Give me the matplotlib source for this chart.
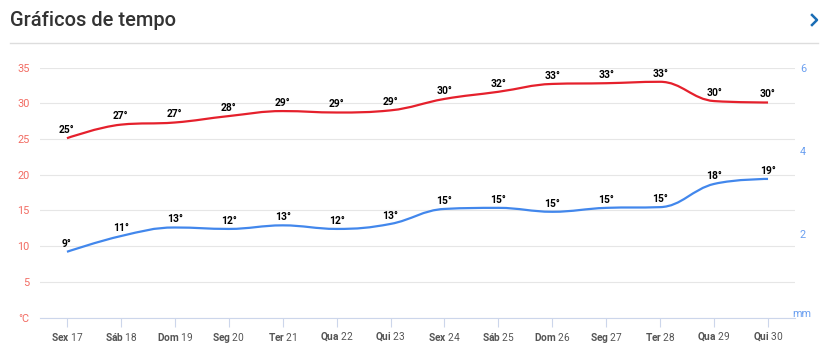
import matplotlib
matplotlib.use('Agg')
import matplotlib.pyplot as plt
from matplotlib.path import Path
from matplotlib.patches import PathPatch
from matplotlib.lines import Line2D

# data
days = ['Sex', 'Sáb', 'Dom', 'Seg', 'Ter', 'Qua', 'Qui',
        'Sex', 'Sáb', 'Dom', 'Seg', 'Ter', 'Qua', 'Qui']
dates = [17, 18, 19, 20, 21, 22, 23, 24, 25, 26, 27, 28, 29, 30]
temp_max = [25.1, 27.0, 27.3, 28.2, 28.9, 28.7, 29.0, 30.6, 31.6, 32.7, 32.8, 33.0, 30.3, 30.1]
temp_max_labels = [25, 27, 27, 28, 29, 29, 29, 30, 32, 33, 33, 33, 30, 30]
temp_min = [9.2, 11.4, 12.6, 12.4, 12.9, 12.4, 13.1, 15.2, 15.35, 14.8, 15.35, 15.45, 18.7, 19.4]
temp_min_labels = [9, 11, 13, 12, 13, 12, 13, 15, 15, 15, 15, 15, 18, 19]
temp_ticks = [0, 5, 10, 15, 20, 25, 30, 35]
rain_ticks = [2, 4, 6]

W, H = 825, 349

plt.rcParams['font.family'] = ['Roboto', 'DejaVu Sans']
plt.rcParams['mathtext.fontset'] = 'custom'
plt.rcParams['mathtext.rm'] = 'Roboto'
plt.rcParams['mathtext.bf'] = 'Roboto:bold'


def spline_path(xs, ys, smoothing=1.5):
    # highcharts-like spline: bezier control points around each point
    denom = smoothing + 1
    n = len(xs)
    left = [(xs[i], ys[i]) for i in range(n)]
    right = [(xs[i], ys[i]) for i in range(n)]
    for i in range(1, n - 1):
        lx, ly = xs[i - 1], ys[i - 1]
        px, py = xs[i], ys[i]
        nx, ny = xs[i + 1], ys[i + 1]
        lcx = (smoothing * px + lx) / denom
        lcy = (smoothing * py + ly) / denom
        rcx = (smoothing * px + nx) / denom
        rcy = (smoothing * py + ny) / denom
        corr = (rcy - lcy) * (rcx - px) / (rcx - lcx) + py - rcy
        lcy += corr
        rcy += corr
        if lcy > ly and lcy > py:
            lcy = max(ly, py)
            rcy = 2 * py - lcy
        elif lcy < ly and lcy < py:
            lcy = min(ly, py)
            rcy = 2 * py - lcy
        if rcy > ny and rcy > py:
            rcy = max(ny, py)
            lcy = 2 * py - rcy
        elif rcy < ny and rcy < py:
            rcy = min(ny, py)
            lcy = 2 * py - rcy
        left[i] = (lcx, lcy)
        right[i] = (rcx, rcy)
    verts = [(xs[0], ys[0])]
    codes = [Path.MOVETO]
    for i in range(1, n):
        verts += [right[i - 1], left[i], (xs[i], ys[i])]
        codes += [Path.CURVE4] * 3
    return Path(verts, codes)


fig = plt.figure(figsize=(W / 100, H / 100), dpi=100)
ax = fig.add_axes([40 / W, (H - 317.5) / H, 755 / W, 250 / H])

x = list(range(len(dates)))

for vals, labels, color in [(temp_max, temp_max_labels, '#e5202c'),
                            (temp_min, temp_min_labels, '#4287ec')]:
    patch = PathPatch(spline_path(x, vals), fill=False, edgecolor=color,
                      lw=1.6, capstyle='butt', zorder=3)
    ax.add_patch(patch)
    for xi, v, lab in zip(x, vals, labels):
        ax.annotate(f'{lab}°', xy=(xi, v), xytext=(0, 3.8), textcoords='offset points',
                    ha='center', va='baseline', fontsize=7.4, fontweight='bold',
                    color='#000000', zorder=4)

ax.set_xlim(-0.5, 13.5)
ax.set_ylim(0, 35)
ax.set_yticks(temp_ticks)
ax.set_yticklabels(['°C'] + [str(t) for t in temp_ticks[1:]])
ax.tick_params(axis='y', length=0, pad=7.5, labelsize=7.8, labelcolor='#f26b62')
ax.yaxis.grid(True, color='#e6e6e6', lw=0.8)
ax.set_axisbelow(True)

ax.set_xticks(x)
ax.set_xticklabels([r'$\mathbf{' + d + '}$ ' + str(n) for d, n in zip(days, dates)])
ax.tick_params(axis='x', length=6.5, width=0.8, color='#ccd6eb', pad=3,
               labelsize=7.3, labelcolor='#555555')

for side in ['top', 'right', 'left']:
    ax.spines[side].set_visible(False)
ax.spines['bottom'].set_color('#ccd6eb')
ax.spines['bottom'].set_linewidth(0.8)

ax2 = ax.twinx()
ax2.set_ylim(0, 6)
ax2.set_yticks(rain_ticks)
ax2.tick_params(axis='y', length=0, pad=3.6, labelsize=7.8, labelcolor='#6a9ff0')
for side in ['top', 'right', 'left', 'bottom']:
    ax2.spines[side].set_visible(False)
fig.text(792 / W, 1 - 314 / H, 'mm', fontsize=7.8, color='#6a9ff0', ha='left', va='center')

# header
fig.text(10 / W, 1 - 20 / H, 'Gráficos de tempo', fontsize=14.5, fontweight='medium',
         color='#333333', ha='left', va='center')
fig.add_artist(Line2D([10 / W, 818 / W], [1 - 42.5 / H] * 2, transform=fig.transFigure,
                      color='#dddddd', lw=1))
fig.add_artist(Line2D([812 / W, 817 / W, 812 / W], [1 - 15 / H, 1 - 20 / H, 1 - 25 / H],
                      transform=fig.transFigure, color='#1a6db5', lw=1.8))

fig.savefig('out.png', dpi=100)
